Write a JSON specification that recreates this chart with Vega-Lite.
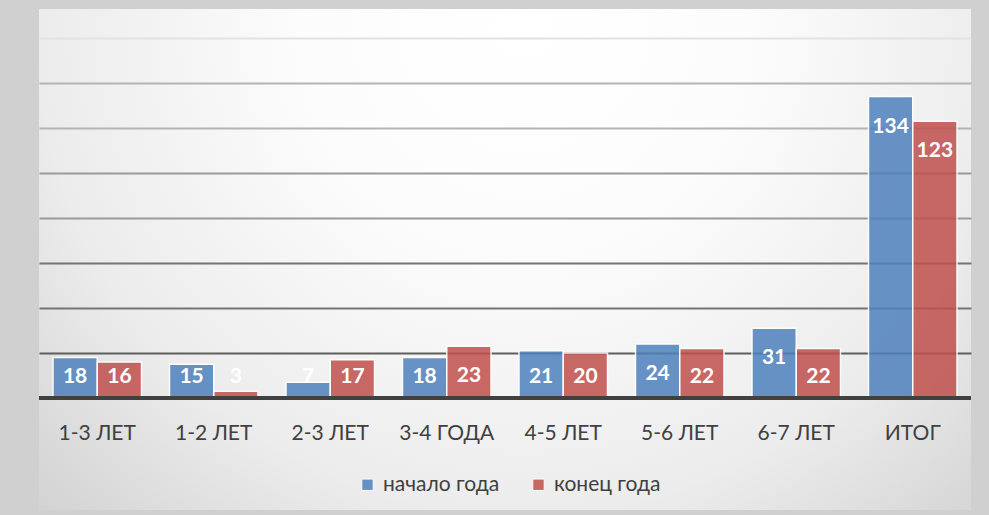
{
  "$schema": "https://vega.github.io/schema/vega-lite/v6.json",
  "width": 932,
  "height": 501,
  "autosize": {"type": "none"},
  "padding": {"left": 39, "top": 9, "right": 18, "bottom": 5},
  "background": "#d0d0d0",
  "config": {
    "view": {
      "stroke": null,
      "fill": {"gradient": "radial", "x1": 0.52, "y1": 0.25, "r1": 0, "x2": 0.52, "y2": 0.25, "r2": 0.8,
        "stops": [{"offset": 0, "color": "#ffffff"}, {"offset": 0.3, "color": "#fcfcfc"}, {"offset": 0.65, "color": "#ececec"}, {"offset": 1, "color": "#cbcbcb"}]}
    },
    "font": "Lato"
  },
  "data": {
    "values": [
      {"cat": "1-3 ЛЕТ", "series": "начало года", "value": 18},
      {"cat": "1-3 ЛЕТ", "series": "конец года", "value": 16},
      {"cat": "1-2 ЛЕТ", "series": "начало года", "value": 15},
      {"cat": "1-2 ЛЕТ", "series": "конец года", "value": 3},
      {"cat": "2-3 ЛЕТ", "series": "начало года", "value": 7},
      {"cat": "2-3 ЛЕТ", "series": "конец года", "value": 17},
      {"cat": "3-4 ГОДА", "series": "начало года", "value": 18},
      {"cat": "3-4 ГОДА", "series": "конец года", "value": 23},
      {"cat": "4-5 ЛЕТ", "series": "начало года", "value": 21},
      {"cat": "4-5 ЛЕТ", "series": "конец года", "value": 20},
      {"cat": "5-6 ЛЕТ", "series": "начало года", "value": 24},
      {"cat": "5-6 ЛЕТ", "series": "конец года", "value": 22},
      {"cat": "6-7 ЛЕТ", "series": "начало года", "value": 31},
      {"cat": "6-7 ЛЕТ", "series": "конец года", "value": 22},
      {"cat": "ИТОГ", "series": "начало года", "value": 134},
      {"cat": "ИТОГ", "series": "конец года", "value": 123}
    ]
  },
  "encoding": {
    "x": {
      "field": "cat", "type": "nominal", "sort": null,
      "scale": {"paddingInner": 0.24, "paddingOuter": 0.12},
      "axis": {"title": null, "domain": false, "ticks": false, "labelAngle": 0, "offset": -90, "labelPadding": 2,
        "labelFontSize": 21, "labelColor": "#404040", "labelFont": "Lato"}
    },
    "xOffset": {"field": "series", "type": "nominal", "sort": ["начало года", "конец года"], "scale": {"paddingInner": 0}}
  },
  "layer": [
    {
      "mark": {"type": "bar", "stroke": "white", "strokeWidth": 1.5, "opacity": 0.85},
      "encoding": {
        "y": {
          "field": "value", "type": "quantitative",
          "scale": {"domain": [-49.8, 172.9], "nice": false, "zero": false},
          "axis": {"title": null, "labels": false, "ticks": false, "domain": false,
            "values": [20, 40, 60, 80, 100, 120, 140, 160], "gridWidth": 2,
            "gridColor": {"condition": [
              {"test": "datum.value >= 160", "value": "#e2e2e2"},
              {"test": "datum.value >= 120", "value": "#b4b4b4"},
              {"test": "datum.value >= 80", "value": "#9a9a9a"},
              {"test": "datum.value >= 40", "value": "#747474"}
            ], "value": "#5e5e5e"}}
        },
        "color": {
          "field": "series", "type": "nominal",
          "scale": {"domain": ["начало года", "конец года"], "range": ["#4F81BD", "#C0504D"]},
          "legend": {"title": null, "orient": "none", "legendX": 318, "legendY": 465, "direction": "horizontal",
            "symbolType": "square", "symbolSize": 130, "symbolStrokeColor": "white", "symbolStrokeWidth": 1, "symbolOpacity": 0.85,
            "labelFontSize": 21, "labelColor": "#404040", "labelFont": "Lato", "columnPadding": 28, "labelOffset": 5}
        }
      }
    },
    {
      "mark": {"type": "rule", "color": "#404040", "strokeWidth": 3},
      "encoding": {"y": {"datum": 0}, "x": null, "xOffset": null}
    },
    {
      "transform": [{"filter": "datum.value >= 23"}],
      "mark": {"type": "text", "color": "white", "fontSize": 21, "fontWeight": "bold", "dy": 30, "font": "Lato"},
      "encoding": {"y": {"field": "value", "type": "quantitative"}, "text": {"field": "value"}}
    },
    {
      "transform": [{"filter": "datum.value < 23"}],
      "mark": {"type": "text", "color": "white", "fontSize": 21, "fontWeight": "bold", "dy": -21, "font": "Lato"},
      "encoding": {"y": {"datum": 0}, "text": {"field": "value"}}
    }
  ]
}
